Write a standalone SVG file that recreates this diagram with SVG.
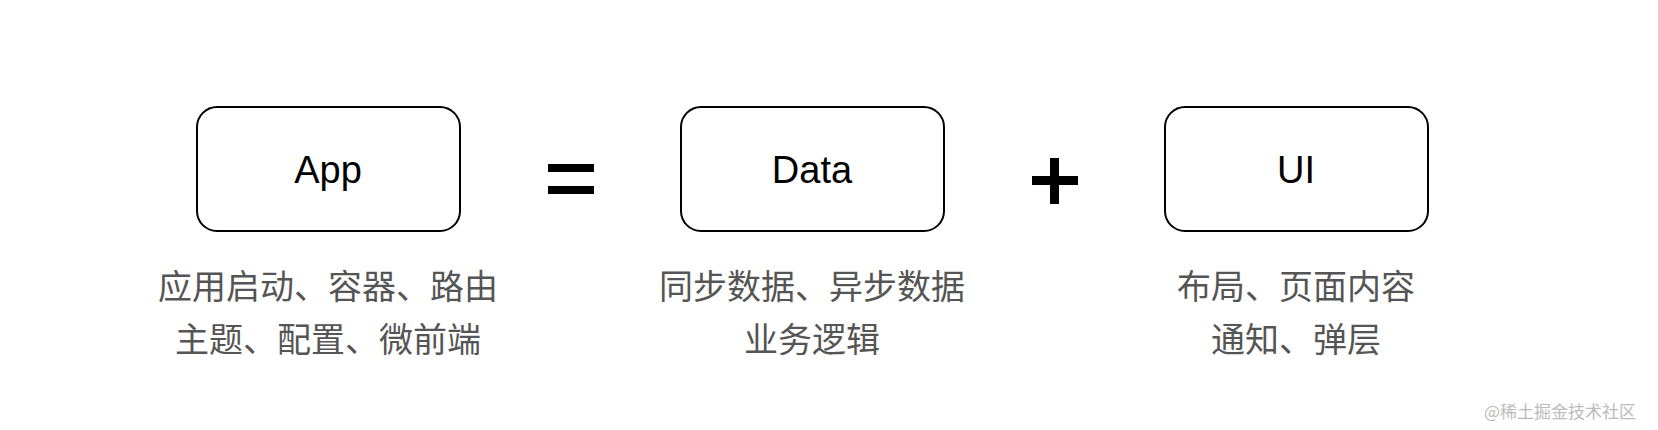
<svg xmlns="http://www.w3.org/2000/svg" width="1658" height="430" viewBox="0 0 1658 430">
<style>
.box{fill:#fff;stroke:#000;stroke-width:2}
.lbl{font-family:"Liberation Sans","Noto Sans CJK SC",sans-serif;font-size:38px;fill:#000;text-anchor:middle}
.sub{font-family:"Liberation Sans","Noto Sans CJK SC",sans-serif;font-size:34px;fill:#555;text-anchor:middle}
</style>
<rect width="1658" height="430" fill="#fff"/>
<g id="app"><rect class="box" x="197" y="107" width="263" height="124" rx="20"/><text class="lbl" x="328" y="183">App</text>
<text class="sub" x="328" y="299">应用启动、容器、路由</text><text class="sub" x="328" y="352">主题、配置、微前端</text></g>
<g id="data"><rect class="box" x="681" y="107" width="263" height="124" rx="20"/><text class="lbl" x="812" y="183">Data</text>
<text class="sub" x="812" y="299">同步数据、异步数据</text><text class="sub" x="812" y="352">业务逻辑</text></g>
<g id="ui"><rect class="box" x="1165" y="107" width="263" height="124" rx="20"/><text class="lbl" x="1296" y="183">UI</text>
<text class="sub" x="1296" y="299">布局、页面内容</text><text class="sub" x="1296" y="352">通知、弹层</text></g>
<g id="connectors">
<rect x="548" y="164" width="46" height="8" fill="#000"/><rect x="548" y="186" width="46" height="8" fill="#000"/>
<rect x="1032" y="176" width="46" height="9" fill="#000"/><rect x="1050" y="158" width="9" height="46" fill="#000"/>
</g>
<text x="1636" y="418" font-family="'Noto Sans CJK SC',sans-serif" font-size="17" fill="#bbb" text-anchor="end">@稀土掘金技术社区</text>
</svg>
